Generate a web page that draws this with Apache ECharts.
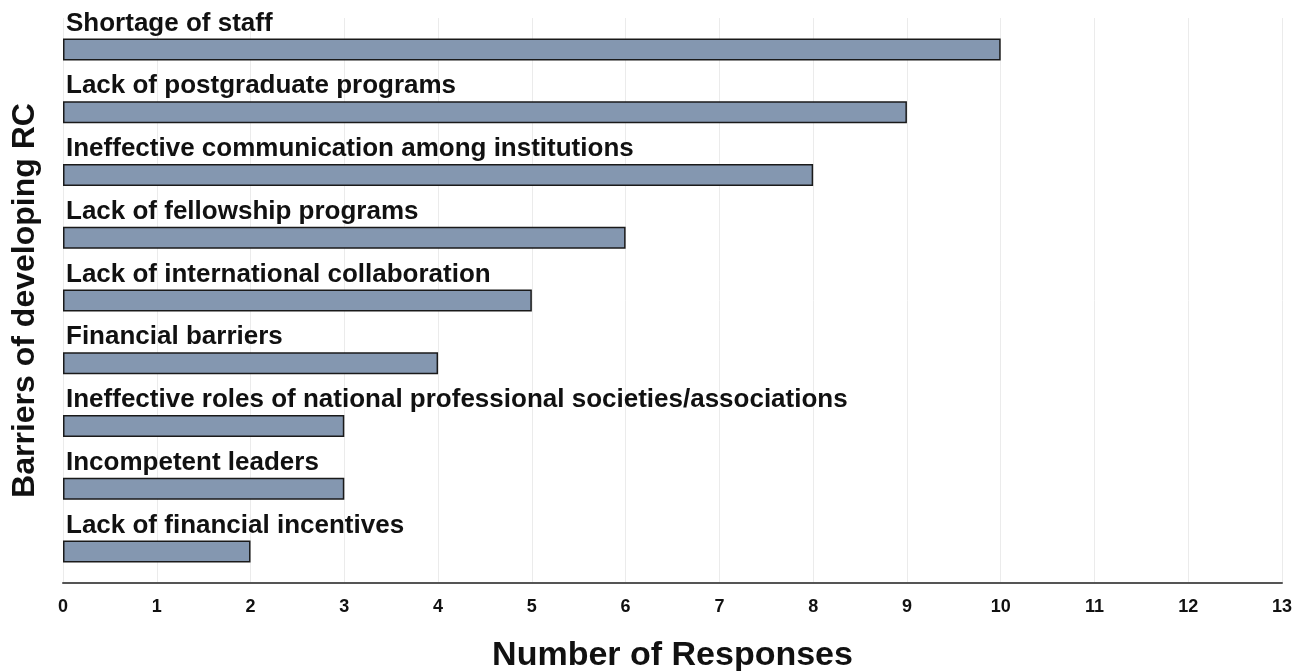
<!DOCTYPE html>
<html>
<head>
<meta charset="utf-8">
<script src="https://cdn.jsdelivr.net/npm/echarts@6/dist/echarts.min.js"></script>
<style>
  html, body { margin: 0; padding: 0; background: #fff; }
  #main { width: 1301px; height: 671px; }
</style>
</head>
<body>
<div id="main"></div>
<script>
// barriers, top to bottom
var barriers = [
  'Shortage of staff',
  'Lack of postgraduate programs',
  'Ineffective communication among institutions',
  'Lack of fellowship programs',
  'Lack of international collaboration',
  'Financial barriers',
  'Ineffective roles of national professional societies/associations',
  'Incompetent leaders',
  'Lack of financial incentives'
];
var responses = [10, 9, 8, 6, 5, 4, 3, 3, 2];

var font = 'Liberation Sans, Arial, sans-serif';
var myChart = echarts.init(document.getElementById('main'));

myChart.setOption({
  animation: false,
  textStyle: {fontFamily: font},
  grid: {left: 63, right: 19, top: 18, bottom: 88, containLabel: false, outerBoundsMode: 'none'},
  xAxis: {
    type: 'value',
    min: 0,
    max: 13,
    interval: 1,
    name: 'Number of Responses',
    nameLocation: 'middle',
    nameGap: 56,
    nameTextStyle: {fontFamily: font, fontSize: 34, fontWeight: 'bold', color: '#111'},
    axisLine: {show: true, lineStyle: {color: '#555', width: 2}},
    axisTick: {show: false},
    axisLabel: {fontFamily: font, fontSize: 18, fontWeight: 'bold', color: '#111', margin: 15},
    splitLine: {show: true, lineStyle: {color: '#ebebeb', width: 1}}
  },
  yAxis: {
    type: 'category',
    data: barriers,
    inverse: true,
    name: 'Barriers of developing RC',
    nameLocation: 'middle',
    nameRotate: 90,
    nameGap: 22,
    nameTextStyle: {fontFamily: font, fontSize: 32, fontWeight: 'bold', color: '#111'},
    axisLine: {show: false},
    axisTick: {show: false},
    axisLabel: {show: false},
    splitLine: {show: false}
  },
  series: [{
    type: 'bar',
    data: responses,
    barWidth: 22,
    itemStyle: {color: '#8497b0', borderColor: '#1a1a1a', borderWidth: 1.5},
    label: {
      show: true,
      position: [3, -15],
      verticalAlign: 'middle',
      align: 'left',
      formatter: function (p) { return p.name; },
      fontFamily: font,
      fontSize: 26,
      fontWeight: 'bold',
      color: '#111'
    }
  }]
});
</script>
</body>
</html>
